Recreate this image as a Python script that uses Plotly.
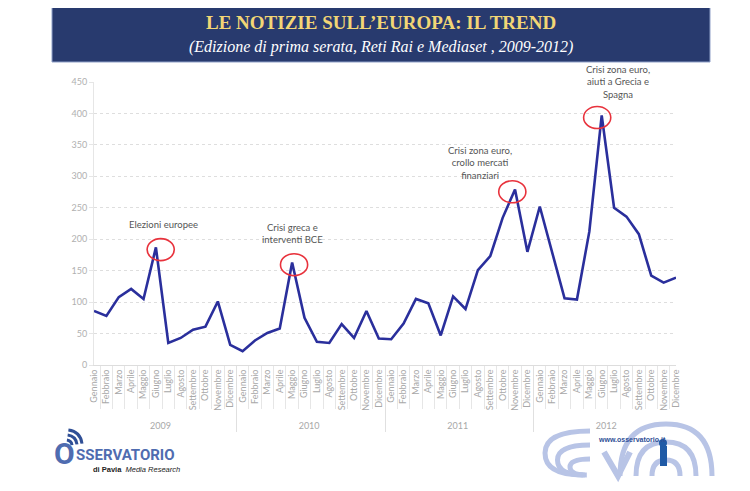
import plotly.graph_objects as go

# mesi e anni (asse x a due livelli)
mesi = ["Gennaio", "Febbraio", "Marzo", "Aprile", "Maggio", "Giugno",
        "Luglio", "Agosto", "Settembre", "Ottobre", "Novembre", "Dicembre"]
anni = ["2009", "2010", "2011", "2012"]

# numero di notizie sull'Europa, mese per mese
notizie_2009 = [86, 78, 108, 121, 105, 187, 35, 43, 56, 61, 101, 32]
notizie_2010 = [22, 39, 51, 58, 163, 75, 37, 35, 65, 43, 86, 42]
notizie_2011 = [41, 66, 105, 98, 47, 109, 89, 151, 173, 234, 279, 180]
notizie_2012 = [252, 178, 106, 104, 212, 397, 250, 236, 208, 142, 131, 139]

y_ticks = [0, 50, 100, 150, 200, 250, 300, 350, 400, 450]

# eventi evidenziati: indice del mese di picco e testo
eventi_idx = [5, 16, 34, 41]
eventi_testo = ["Elezioni europee",
                "Crisi greca e<br>interventi BCE",
                "Crisi zona euro,<br>crollo mercati<br>finanziari",
                "Crisi zona euro,<br>aiuti a Grecia e<br>Spagna"]

valori = notizie_2009 + notizie_2010 + notizie_2011 + notizie_2012
x_anni = [a for a in anni for _ in mesi]
x_mesi = mesi * len(anni)

# la pagina ha un margine di 8px: la figura e' piu' piccola e tutto e' spostato
OFF = 8
W, H = 750 - OFF, 491 - OFF
L, R, T, B = 94 - OFF, 676 - OFF, 82 - OFF, 365 - OFF


def px(x, y):
    # coordinate pixel del riferimento -> coordinate "paper"
    x, y = x - OFF, y - OFF
    return (x - L) / (R - L), (B - y) / (B - T)


fig = go.Figure()

fig.add_trace(go.Scatter(
    x=[x_anni, x_mesi], y=valori,
    mode="lines",
    line=dict(color="#2a2f9c", width=2.6),
    hoverinfo="y",
    showlegend=False,
))

# asse numerico sovrapposto, usato solo per cerchi ed etichette
fig.add_trace(go.Scatter(
    x=list(range(len(valori))), y=valori, xaxis="x2",
    mode="lines", line=dict(width=0), hoverinfo="skip", showlegend=False,
))

annots = []
shapes = []
testo_y = [211, 188, 289, 418]
testo_x = [5.2, 15.9, 31.3, 42.7]
for i, idx in enumerate(eventi_idx):
    v = valori[idx]
    shapes.append(dict(
        type="circle", xref="x2", yref="y",
        x0=idx - 1.12, x1=idx + 1.12, y0=v - 21, y1=v + 14,
        line=dict(color="#e8323c", width=1.6),
    ))
    annots.append(dict(
        xref="x2", yref="y", x=testo_x[i], y=testo_y[i],
        text=eventi_testo[i], showarrow=False,
        xanchor="center", yanchor="bottom", align="center",
        font=dict(family="Lato", size=9.5, color="#555555"),
    ))

# banner del titolo
x0, y0 = px(52, 3)
x1, y1 = px(710, 62)
shapes.append(dict(type="rect", xref="paper", yref="paper",
                   x0=x0, x1=x1, y0=y1, y1=y0,
                   fillcolor="#283a6e", line=dict(color="#8fa0c8", width=1),
                   layer="below"))
tx, ty = px(381, 22)
annots.append(dict(xref="paper", yref="paper", x=tx, y=ty,
                   text="<b>LE NOTIZIE SULL’EUROPA: IL TREND</b>",
                   showarrow=False, xanchor="center", yanchor="middle",
                   font=dict(family="Liberation Serif", size=19, color="#f2d675")))
tx, ty = px(381, 47)
annots.append(dict(xref="paper", yref="paper", x=tx, y=ty,
                   text="<i>(Edizione di prima serata, Reti Rai e Mediaset , 2009-2012)</i>",
                   showarrow=False, xanchor="center", yanchor="middle",
                   font=dict(family="Liberation Serif", size=16, color="#ffffff")))

# logo Osservatorio di Pavia (approssimato)
tx, ty = px(77, 453)
annots.append(dict(xref="paper", yref="paper", x=tx, y=ty,
                   text="<b>O</b>", showarrow=False,
                   xanchor="right", yanchor="middle",
                   font=dict(family="Roboto", size=30, color="#4f6cb0")))
tx, ty = px(74, 455)
annots.append(dict(xref="paper", yref="paper", x=tx, y=ty,
                   text="<b>SSERVATORIO</b>", showarrow=False,
                   xanchor="left", yanchor="middle",
                   font=dict(family="Roboto", size=15, color="#4f6cb0")))
tx, ty = px(91, 469)
annots.append(dict(xref="paper", yref="paper", x=tx, y=ty,
                   text="<b>di Pavia</b>  <i>Media Research</i>",
                   showarrow=False, xanchor="left", yanchor="middle",
                   font=dict(family="Liberation Sans", size=7.5, color="#222222")))
for r in (6, 11, 16):
    p0 = px(66 + r * 0.15, 446 - r)
    pc = px(66 + r * 0.9, 446 - r * 0.9)
    p1 = px(66 + r, 446 - r * 0.15)
    shapes.append(dict(type="path", xref="paper", yref="paper",
                       path=f"M {p0[0]} {p0[1]} Q {pc[0]} {pc[1]} {p1[0]} {p1[1]}",
                       line=dict(color="#2f4f96", width=3)))

# logo www.osservatorio.it (approssimato)
tx, ty = px(632, 439)
annots.append(dict(xref="paper", yref="paper", x=tx, y=ty,
                   text="<b>www.osservatorio.it</b>", showarrow=False,
                   xanchor="center", yanchor="middle",
                   font=dict(family="Liberation Sans", size=7, color="#2f4f96")))
# archi tipo "onde" a sinistra, aperti verso destra
for rx, ry in [(36, 22), (26, 15), (16, 8)]:
    cx, cy = 590, 475
    a = px(cx, cy - ry * 2)
    c = px(cx - rx * 1.25, cy - ry)
    b = px(cx - rx, cy)
    shapes.append(dict(type="path", xref="paper", yref="paper",
                       path=f"M {a[0]} {a[1]} Q {c[0]} {a[1]} {c[0]} {(a[1] + b[1]) / 2} "
                            f"Q {c[0]} {b[1]} {px(cx - rx * 0.2, cy)[0]} {b[1]}",
                       line=dict(color="#b8c4e6", width=5)))
# "v" e onde concentriche attorno alla figura
a = px(604, 452)
b = px(618, 476)
c = px(630, 452)
shapes.append(dict(type="path", xref="paper", yref="paper",
                   path=f"M {a[0]} {a[1]} L {b[0]} {b[1]} L {c[0]} {c[1]}",
                   line=dict(color="#b8c4e6", width=6)))
for rx, ry in [(46, 26), (30, 17), (14, 8)]:
    cx, cy = 666, 476
    a = px(cx - rx, cy)
    b = px(cx + rx, cy)
    t = px(cx, cy - ry * 2)
    shapes.append(dict(type="path", xref="paper", yref="paper",
                       path=f"M {a[0]} {a[1]} Q {a[0]} {t[1]} {t[0]} {t[1]} Q {b[0]} {t[1]} {b[0]} {b[1]}",
                       line=dict(color="#b8c4e6", width=5)))
a, b = px(660, 446)
c, d = px(667, 466)
shapes.append(dict(type="rect", xref="paper", yref="paper", x0=a, x1=c, y0=d, y1=b,
                   fillcolor="#1f5aa6", line=dict(width=0)))
a, b = px(659, 439)
c, d = px(667, 447)
shapes.append(dict(type="circle", xref="paper", yref="paper", x0=a, x1=c, y0=d, y1=b,
                   fillcolor="#1f5aa6", line=dict(width=0)))

fig.update_layout(
    width=W, height=H,
    margin=dict(l=L, r=W - R, t=T, b=H - B, autoexpand=False),
    paper_bgcolor="white", plot_bgcolor="white",
    font=dict(family="Lato", color="#aaaaaa"),
    xaxis=dict(
        type="multicategory",
        tickangle=-90,
        tickfont=dict(family="Lato", size=9, color="#a8a8a8"),
        showline=True, linecolor="#dddddd", linewidth=1,
        ticks="outside", ticklen=43, tickcolor="#e6e6e6",
        tickson="boundaries",
        showdividers=True, dividercolor="#e0e0e0", dividerwidth=1,
        showgrid=False, zeroline=False, automargin=False,
    ),
    xaxis2=dict(overlaying="x", range=[-0.5, len(valori) - 0.5],
                visible=False, fixedrange=True),
    yaxis=dict(
        range=[0, 450], tickvals=y_ticks,
        tickfont=dict(family="Lato", size=9, color="#b0b0b0"),
        showgrid=True, gridcolor="#dedede", griddash="dot", gridwidth=1,
        zeroline=False, showline=True, linecolor="#e6e6e6",
        ticks="outside", ticklen=4, tickcolor="#e6e6e6", automargin=False,
    ),
    shapes=shapes,
    annotations=annots,
)

fig.write_html("out.html")
